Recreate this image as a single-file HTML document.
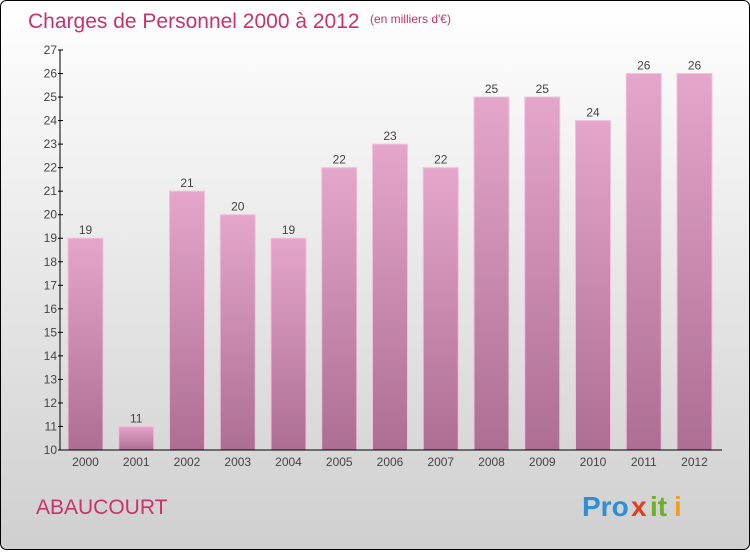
<!DOCTYPE html>
<html><head><meta charset="utf-8"><style>
body{margin:0;width:750px;height:550px;overflow:hidden;font-family:"Liberation Sans",sans-serif}
</style></head><body>
<svg width="750" height="550" xmlns="http://www.w3.org/2000/svg">
<defs>
<linearGradient id="bg" x1="0" y1="0" x2="0" y2="1"><stop offset="0" stop-color="#ffffff"/><stop offset="1" stop-color="#cfcfcf"/></linearGradient>
<linearGradient id="bar" x1="0" y1="0" x2="0" y2="1"><stop offset="0" stop-color="#e5a6cb"/><stop offset="1" stop-color="#ad6e94"/></linearGradient>
</defs>
<rect x="0.5" y="0.5" width="749" height="549" rx="6" fill="url(#bg)" stroke="#000"/>
<text x="28" y="28" font-size="21" fill="#c8336a">Charges de Personnel 2000 à 2012</text>
<text x="370" y="23" font-size="12" fill="#c8336a">(en milliers d'€)</text>
<text x="36" y="514" font-size="21" fill="#c8336a">ABAUCOURT</text>
<g font-size="28" font-weight="bold">
<text x="582" y="516" fill="#2e8fd6">Pro</text><text x="631" y="516" fill="#e04020">x</text><text x="650" y="516" fill="#6ab02a">it</text><text x="674" y="516" fill="#f0a020">i</text>
</g>
<g id="bars"></g>
<g id="axes"></g>
</svg>
<script>
const years=["2000","2001","2002","2003","2004","2005","2006","2007","2008","2009","2010","2011","2012"];
const values=[19,11,21,20,19,22,23,22,25,25,24,26,26];
const yTicks=[10,11,12,13,14,15,16,17,18,19,20,21,22,23,24,25,26,27];
const NS="http://www.w3.org/2000/svg";
const y=v=>450-(v-10)*400/17;
const x=i=>85.5+i*50.75;
const bw=35;
const bars=document.getElementById('bars'),axes=document.getElementById('axes');
function mk(t,a,p){const e=document.createElementNS(NS,t);for(const k in a)e.setAttribute(k,a[k]);p.appendChild(e);return e;}
values.forEach((v,i)=>{
 const r=mk('rect',{x:x(i)-bw/2,y:y(v),width:bw,height:450-y(v),fill:'url(#bar)',stroke:'#f0c0dc','stroke-width':1},bars);
 
 
 const t=mk('text',{x:x(i),y:y(v)-4,'text-anchor':'middle','font-size':12,fill:'#444'},bars);
 t.textContent=v;
 
 
 const xl=mk('text',{x:x(i),y:466,'text-anchor':'middle','font-size':12,fill:'#444'},axes);
 xl.textContent=years[i];
 
 
});
const ya=mk('line',{x1:60,y1:50,x2:60,y2:450,stroke:'#000'},axes);


const xa=mk('line',{x1:60,y1:450,x2:722,y2:450,stroke:'#000'},axes);


yTicks.forEach(v=>{
 mk('line',{x1:58,y1:y(v),x2:63,y2:y(v),stroke:'#000'},axes);
 const t=mk('text',{x:57,y:y(v)+4,'text-anchor':'end','font-size':12,fill:'#444'},axes);
 t.textContent=v;
 
 
});
</script>
</body></html>
